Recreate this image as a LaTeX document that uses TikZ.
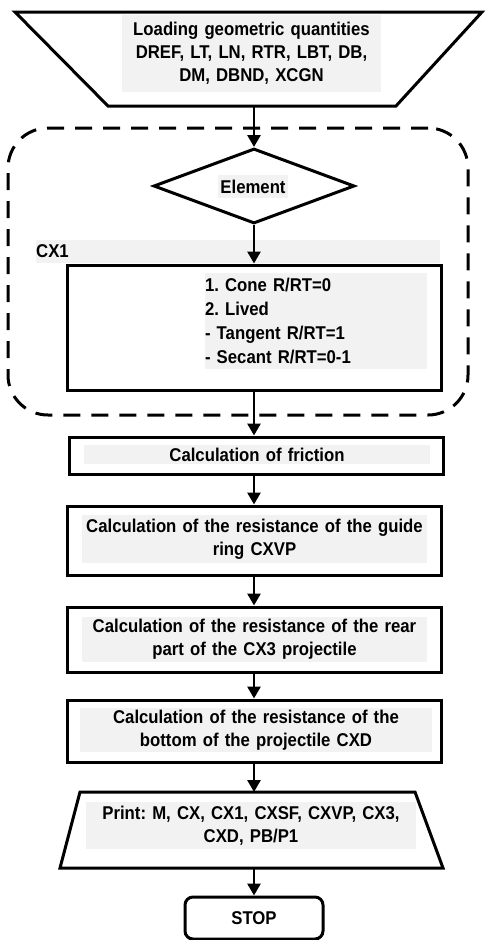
\documentclass[tikz,border=0pt]{standalone}
\usepackage{fontspec}
\setmainfont{Liberation Sans}[FakeStretch=0.905]
\frenchspacing
\usetikzlibrary{shapes.geometric,arrows.meta}
\begin{document}
\begin{tikzpicture}[x=1pt,y=-1pt]
		\tikzstyle{block}=[draw,line width=3pt,minimum width=374pt,inner sep=2pt]
		\tikzstyle{txt}=[fill=black!5,inner sep=0pt,align=center,font=\fontsize{18.5}{23}\selectfont\bfseries]
		\tikzstyle{flow}=[-{Triangle[length=12pt,width=13pt]},line width=2.8pt]
		\useasboundingbox (0,0) rectangle (489,940);
		% dashed frame round the CX1 part
		\node[draw,line width=3pt,dash pattern=on 17pt off 11pt,rounded corners=40pt,minimum width=460pt,minimum height=287pt] (g_0) at (238,271.5) {};
		% input and output blocks: the short side is the node, the slanted sides are added
		\node[minimum width=288pt,minimum height=94pt,outer sep=0pt] (b_1) at (252,59) {};
		\draw[line width=3pt] (b_1.south west) -- (b_1.south east) -- ([xshift=86pt]b_1.north east)
			-- ([xshift=-93pt]b_1.north west) -- cycle;
		\node[block,diamond,minimum width=201pt,minimum height=75pt] (b_2) at (254,186) {};
		\node[block,minimum height=125pt] (b_3) at (254,327.5) {};
		\node[block,minimum height=37pt] (b_4) at (256,455.5) {};
		\node[block,minimum height=69pt] (b_5) at (254,540.5) {};
		\node[block,minimum height=65pt] (b_6) at (254,639.5) {};
		\node[block,minimum height=62pt] (b_7) at (254,731) {};
		\node[minimum width=335pt,minimum height=76pt,outer sep=0pt] (b_8) at (247.5,830) {};
		\draw[line width=3pt] (b_8.north west) -- (b_8.north east) -- ([xshift=28pt]b_8.south east)
			-- ([xshift=-20pt]b_8.south west) -- cycle;
		\node[block,rounded corners=8pt,minimum width=138pt,minimum height=42pt,font=\fontsize{18.5}{23}\selectfont\bfseries] (b_9) at (254,918) {STOP};
		% texts on their grey fields
		\node[txt,text width=259pt,minimum height=77pt] (t_1) at (251.5,53.5) {Loading geometric quantities\\DREF, LT, LN, RTR, LBT, DB,\\DM, DBND, XCGN};
		\node[txt,text width=70pt,minimum height=23pt] (t_2) at (253,186.5) {Element};
		\node[txt,text width=404pt,minimum height=23pt,align=left,anchor=west] (t_3) at (36,251.5) {CX1};
		\node[txt,text width=222pt,minimum height=96pt,align=left,font=\fontsize{18.5}{24}\selectfont\bfseries] (t_4) at (316,321) {1. Cone R/RT=0\\2. Lived\\- Tangent R/RT=1\\- Secant R/RT=0-1};
		\node[txt,text width=346pt,minimum height=19pt] (t_5) at (257,454.5) {Calculation of friction};
		\node[txt,text width=345pt,minimum height=48pt] (t_6) at (254.5,539) {Calculation of the resistance of the guide\\ring CXVP};
		\node[txt,text width=345pt,minimum height=45pt] (t_7) at (254.5,639.5) {Calculation of the resistance of the rear\\part of the CX3 projectile};
		\node[txt,text width=352pt,minimum height=44pt] (t_8) at (256,730) {Calculation of the resistance of the\\bottom of the projectile CXD};
		\node[txt,text width=330pt,minimum height=47pt] (t_9) at (251,825.5) {Print: M, CX, CX1, CXSF, CXVP, CX3,\\CXD, PB/P1};
		\draw[flow] (b_1.south -| b_2.north) -- (b_2);
		\draw[flow] (b_2) -- (b_3);
		\draw[flow] (b_3) -- (b_3.south |- b_4.north);
		\draw[flow] (b_4.south -| b_5.north) -- (b_5);
		\draw[flow] (b_5) -- (b_6);
		\draw[flow] (b_6) -- (b_7);
		\draw[flow] (b_7.south) -- (b_7.south |- b_8.north);
		\draw[flow] (b_8.south -| b_9.north) -- (b_9);
	\end{tikzpicture}
\end{document}
